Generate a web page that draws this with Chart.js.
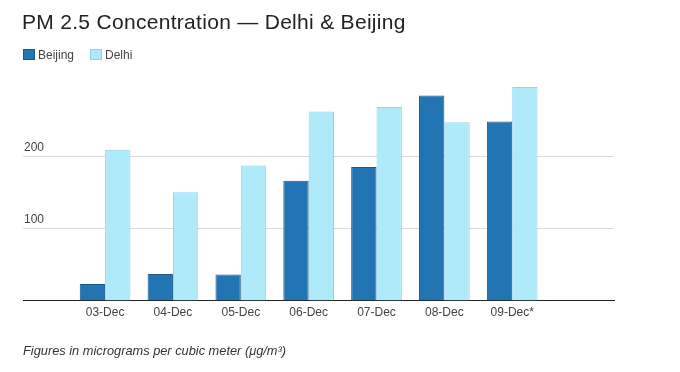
<!DOCTYPE html>
<html>
<head>
<meta charset="utf-8">
<script src="https://cdn.jsdelivr.net/npm/chart.js@4.4.1/dist/chart.umd.min.js"></script>
<style>
  html, body { margin: 0; padding: 0; background: #fff; }
  #wrap { position: relative; width: 680px; height: 372px; overflow: hidden;
          font-family: "Liberation Sans", Arial, sans-serif; }
  #chart { position: absolute; left: 0; top: 0; }
  .title { position: absolute; left: 22px; top: 11px; font-size: 21px; line-height: 1;
           letter-spacing: 0.3px; color: #222; white-space: nowrap; }
  .legend { position: absolute; left: 23px; top: 49px; display: flex; align-items: flex-start;
            font-size: 12px; line-height: 1; color: #444; }
  .legend__item { display: flex; align-items: flex-start; margin-right: 16px; }
  .legend__box { width: 12px; height: 11px; margin-right: 3px; box-sizing: border-box; }
  .note { position: absolute; left: 23px; top: 345px; font-size: 12.8px; line-height: 1;
          font-style: italic; color: #333; white-space: nowrap; }
</style>
</head>
<body>
<div id="wrap">
  <canvas id="chart" width="680" height="372"></canvas>
  <div class="title">PM 2.5 Concentration — Delhi &amp; Beijing</div>
  <div class="legend" id="legend"></div>
  <div class="note">Figures in micrograms per cubic meter (μg/m³)</div>
</div>
<script>
// 数据
const categories = ["03-Dec", "04-Dec", "05-Dec", "06-Dec", "07-Dec", "08-Dec", "09-Dec*"];
const beijing = [23, 37, 36, 166, 185, 284, 248];
const delhi = [209, 150, 187, 262, 268, 247, 296];
const yTicks = [100, 200];

const $ = (id) => document.getElementById(id);

function toPoints(values) {
  return values.map((v, i) => ({ x: i, y: v }));
}

const chart = new Chart($("chart").getContext("2d"), {
  type: "bar",
  data: {
    datasets: [
      {
        label: "Beijing",
        data: toPoints(beijing),
        backgroundColor: "#2175b3",
        borderColor: "#1a5a8c",
        borderWidth: 1,
      },
      {
        label: "Delhi",
        data: toPoints(delhi),
        backgroundColor: "#aeeafa",
        borderColor: "#92d3ea",
        borderWidth: 1,
      },
    ],
  },
  options: {
    responsive: false,
    animation: false,
    layout: { padding: { left: 23, right: 66, top: 84, bottom: 47 } },
    datasets: { bar: { categoryPercentage: 0.747, barPercentage: 1.0 } },
    scales: {
      x: {
        type: "linear",
        offset: false,
        min: -1.21,
        max: 7.5,
        afterBuildTicks: (s) => { s.ticks = categories.map((_, i) => ({ value: i })); },
        grid: { offset: false, drawOnChartArea: false, drawTicks: false },
        border: { display: true, color: "#222", width: 1 },
        ticks: {
          padding: 5,
          color: "#444",
          font: { family: "Liberation Sans", size: 12 },
          callback: (v) => categories[v] ?? "",
          maxRotation: 0,
          autoSkip: false,
        },
      },
      y: {
        min: 0,
        max: 300,
        afterBuildTicks: (s) => { s.ticks = yTicks.map((v) => ({ value: v })); },
        afterFit: (s) => { s.width = 0; },
        grid: { color: "#dadada", drawTicks: false },
        border: { display: false },
        ticks: {
          mirror: true,
          padding: 1,
          labelOffset: -9,
          color: "#444",
          font: { family: "Liberation Sans", size: 12 },
        },
      },
    },
    plugins: {
      legend: { display: false },
      tooltip: { enabled: false },
    },
  },
});

// 图例：从数据集生成
$("legend").innerHTML = chart.data.datasets.map((d) =>
  `<span class="legend__item"><span class="legend__box" style="background:${d.backgroundColor};border:1px solid ${d.borderColor}"></span>${d.label}</span>`
).join("");
</script>
</body>
</html>
